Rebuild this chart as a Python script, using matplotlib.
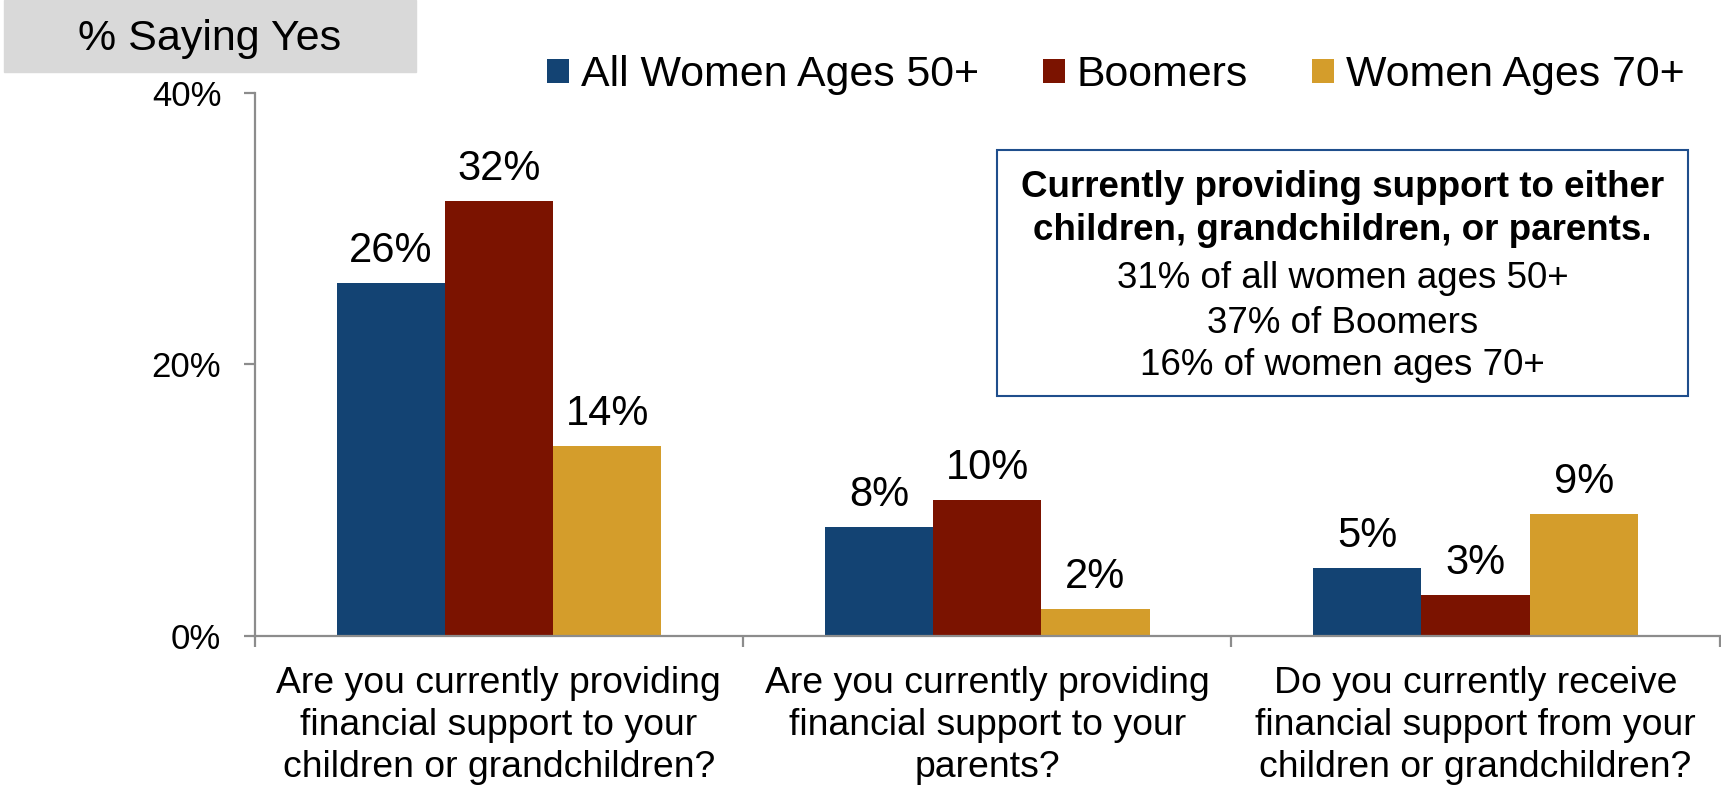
import matplotlib.pyplot as plt
from matplotlib.patches import Rectangle

plt.rcParams['font.family'] = ['Liberation Sans', 'DejaVu Sans']

questions = [
    'Are you currently providing\nfinancial support to your\nchildren or grandchildren?',
    'Are you currently providing\nfinancial support to your\nparents?',
    'Do you currently receive\nfinancial support from your\nchildren or grandchildren?',
]
groups = ['All Women Ages 50+', 'Boomers', 'Women Ages 70+']
all_women = [26, 8, 5]
boomers = [32, 10, 3]
women_70 = [14, 2, 9]
colors = ['#134373', '#7B1300', '#D49D2B']

yticks = [0, 20, 40]
ytick_labels = ['0%', '20%', '40%']

box_title = ['Currently providing support to either',
             'children, grandchildren, or parents.']
box_lines = ['31% of all women ages 50+', '37% of Boomers', '16% of women ages 70+']

W, H = 1721, 794
fig = plt.figure(figsize=(W / 100, H / 100), dpi=100)
ax = fig.add_axes([254.7 / W, 1 - 635.7 / H, 1465 / W, 543 / H])

width = 0.2216
series = [all_women, boomers, women_70]
handles = []
for j, vals in enumerate(series):
    xs = [i + (j - 1) * width for i in range(len(vals))]
    b = ax.bar(xs, vals, width, color=colors[j], label=groups[j])
    handles.append(b)
    for x, v in zip(xs, vals):
        ax.annotate(f'{v}%', (x, v), xytext=(0, 15), textcoords='offset points',
                    ha='center', va='baseline', fontsize=30)

ax.set_xlim(-0.5, 2.5)
ax.set_ylim(0, 40)
ax.set_yticks(yticks)
ax.set_yticklabels(ytick_labels, fontsize=25)
ax.set_xticks(range(3))
ax.set_xticklabels(questions, fontsize=26.9, linespacing=1.25)
ax.set_xticks([-0.5, 0.5, 1.5, 2.5], minor=True)

axis_gray = '#8C8C8C'
for s in ['top', 'right']:
    ax.spines[s].set_visible(False)
for s in ['left', 'bottom']:
    ax.spines[s].set_color(axis_gray)
    ax.spines[s].set_linewidth(1.6)
ax.tick_params(axis='x', which='major', length=0, pad=22)
ax.tick_params(axis='x', which='minor', length=8, width=1.6, color=axis_gray)
ax.tick_params(axis='y', length=8, width=1.6, color=axis_gray, pad=16)

ax.legend(handles=handles, loc='center', bbox_to_anchor=(1116 / W, 1 - 75 / H),
          bbox_transform=fig.transFigure, ncol=3, frameon=False, fontsize=30.9,
          handlelength=0.5, handleheight=0.5, handletextpad=0.28,
          columnspacing=1.5, borderpad=0, borderaxespad=0)

# "% Saying Yes" header tab
fig.patches.append(Rectangle((4 / W, 1 - 72 / H), 412 / W, 72 / H,
                             transform=fig.transFigure, color='#D9D9D9', zorder=0))
fig.text(210 / W, 1 - 39 / H, '% Saying Yes', ha='center', va='center', fontsize=31)

# summary box
fig.patches.append(Rectangle((997 / W, 1 - 395.7 / H), 691 / W, 245.7 / H,
                             transform=fig.transFigure, facecolor='white',
                             edgecolor='#1F4E8C', linewidth=1.5, zorder=1))
cx = 1342.5 / W
for line, base in zip(box_title, [196.7, 240]):
    fig.text(cx, 1 - base / H, line, ha='center', va='baseline',
             fontsize=26.5, fontweight='bold', zorder=2)
for line, base in zip(box_lines, [288, 333, 375]):
    fig.text(cx, 1 - base / H, line, ha='center', va='baseline', fontsize=26.5, zorder=2)

fig.savefig('out.png', dpi=100)
